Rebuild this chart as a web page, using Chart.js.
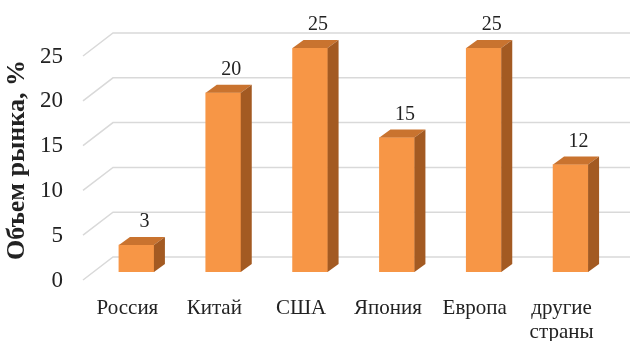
<!DOCTYPE html>
<html>
<head>
<meta charset="utf-8">
<script src="https://cdn.jsdelivr.net/npm/chart.js@4"></script>
<style>
  html, body { margin: 0; padding: 0; background: #fff; }
  #wrap { width: 631px; height: 341px; }
</style>
</head>
<body>
<div id="wrap"><canvas id="marketChart"></canvas></div>
<script>
// Объем рынка по странам, %
const countries = ['Россия', 'Китай', 'США', 'Япония', 'Европа', ['другие', 'страны']];
const shares = [3, 20, 25, 15, 25, 12];
const yTicks = [0, 5, 10, 15, 20, 25];

const FRONT = '#F79646';
const TOP = '#C9732F';
const SIDE = '#A35A22';
const GRID = '#d9d9d9';
const TEXT = '#222';
const SERIF = '"Liberation Serif", "Times New Roman", serif';

// псевдо-3D: глубина столбика и стенки графика
const bar3d = {
  id: 'bar3d',
  beforeDatasetsDraw(chart) {
    const { ctx, chartArea, scales } = chart;
    const y = scales.y;
    ctx.save();
    ctx.strokeStyle = GRID;
    ctx.lineWidth = 1.5;
    yTicks.forEach(v => {
      const p = y.getPixelForValue(v);
      ctx.beginPath();
      ctx.moveTo(chartArea.left - 10, p + 8);
      ctx.lineTo(chartArea.left + 20, p - 15);
      ctx.lineTo(chartArea.right + 16, p - 15);
      ctx.stroke();
    });
    ctx.restore();
  },
  afterDatasetsDraw(chart) {
    const { ctx } = chart;
    const meta = chart.getDatasetMeta(0);
    const dx = 11, dy = 8;
    ctx.save();
    meta.data.forEach((bar, i) => {
      const l = bar.x - bar.width / 2;
      const r = bar.x + bar.width / 2;
      const t = bar.y, b = bar.base;
      // верхняя грань
      ctx.fillStyle = TOP;
      ctx.beginPath();
      ctx.moveTo(l, t);
      ctx.lineTo(l + dx, t - dy);
      ctx.lineTo(r + dx, t - dy);
      ctx.lineTo(r, t);
      ctx.closePath();
      ctx.fill();
      // боковая грань
      ctx.fillStyle = SIDE;
      ctx.beginPath();
      ctx.moveTo(r, t);
      ctx.lineTo(r + dx, t - dy);
      ctx.lineTo(r + dx, b - dy);
      ctx.lineTo(r, b);
      ctx.closePath();
      ctx.fill();
      // подпись значения
      ctx.fillStyle = TEXT;
      ctx.font = '20px ' + SERIF;
      ctx.textAlign = 'center';
      ctx.textBaseline = 'middle';
      ctx.fillText(String(shares[i]), bar.x + 8, t - 23);
    });
    ctx.restore();
  }
};

new Chart(document.getElementById('marketChart'), {
  type: 'bar',
  data: {
    labels: countries,
    datasets: [{
      data: shares,
      backgroundColor: FRONT,
      borderWidth: 0,
      barThickness: 35
    }]
  },
  options: {
    responsive: true,
    maintainAspectRatio: false,
    animation: false,
    layout: { padding: { top: 48, right: 17, bottom: 0, left: 0 } },
    plugins: {
      legend: { display: false },
      tooltip: { enabled: false }
    },
    scales: {
      x: {
        grid: { display: false, drawTicks: false },
        border: { display: false },
        ticks: {
          color: TEXT,
          font: { family: SERIF, size: 21, lineHeight: 1.15 },
          padding: 24,
          labelOffset: -9,
          maxRotation: 0,
          autoSkip: false
        },
        afterFit(scale) { scale.height = 69; }
      },
      y: {
        min: 0,
        max: 25,
        grid: { display: false, drawTicks: false },
        border: { display: false },
        ticks: {
          stepSize: 5,
          color: TEXT,
          font: { family: SERIF, size: 23 },
          padding: 30,
          labelOffset: 8.5
        },
        title: {
          display: true,
          text: 'Объем рынка, %',
          color: TEXT,
          font: { family: SERIF, size: 26, weight: 'bold' },
          padding: { top: 2, bottom: 0 }
        },
        afterFit(scale) { scale.width = 93; }
      }
    }
  },
  plugins: [bar3d]
});
</script>
</body>
</html>
